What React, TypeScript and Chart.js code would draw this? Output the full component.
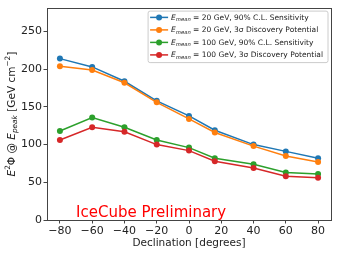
import React, { useEffect, useRef } from "react";
import { Chart, registerables } from "chart.js";

Chart.register(...registerables);

const declinations = [-80, -60, -40, -20, 0, 16, 40, 60, 80];
const sens20 = [214, 203, 184, 158, 138, 119, 100, 91, 82];
const disc20 = [204, 199, 182, 156, 134, 116, 98, 85, 77];
const sens100 = [118, 136, 123, 106, 96, 82, 74, 63, 61];
const disc100 = [106, 123, 117, 100, 92, 78, 69, 58, 56];
const xTicks = [-80, -60, -40, -20, 0, 20, 40, 60, 80];
const yTicks = [0, 50, 100, 150, 200, 250];
const seriesLabels = [
  { mean: "20", rest: " GeV, 90% C.L. Sensitivity" },
  { mean: "20", rest: " GeV, 3σ Discovery Potential" },
  { mean: "100", rest: " GeV, 90% C.L. Sensitivity" },
  { mean: "100", rest: " GeV, 3σ Discovery Potential" },
];
const colors = ["#1f77b4", "#ff7f0e", "#2ca02c", "#d62728"];
const FONT = "'DejaVu Sans', sans-serif";

type Seg = { t: string; it?: boolean; s?: "sub" | "sup" };

function segFont(seg: Seg, size: number) {
  const sz = seg.s ? size * 0.7 : size;
  return `${seg.it ? "italic " : ""}${sz}px ${FONT}`;
}

function measureRich(ctx: CanvasRenderingContext2D, segs: Seg[], size: number) {
  let w = 0;
  for (const s of segs) {
    ctx.font = segFont(s, size);
    w += ctx.measureText(s.t).width;
  }
  return w;
}

function drawRich(ctx: CanvasRenderingContext2D, segs: Seg[], x: number, y: number, size: number) {
  // x = left start, y = middle baseline
  let cx = x;
  ctx.textBaseline = "middle";
  ctx.textAlign = "left";
  for (const s of segs) {
    ctx.font = segFont(s, size);
    let dy = 0;
    if (s.s === "sup") dy = -size * 0.38;
    if (s.s === "sub") dy = size * 0.25;
    ctx.fillText(s.t, cx, y + dy);
    cx += ctx.measureText(s.t).width;
  }
}

const overlayPlugin = {
  id: "overlay",
  afterDraw(chart: any) {
    const ctx: CanvasRenderingContext2D = chart.ctx;
    const ca = chart.chartArea;
    const xs = chart.scales.x;
    const ys = chart.scales.y;
    ctx.save();
    // spines
    ctx.strokeStyle = "#444";
    ctx.lineWidth = 1;
    ctx.strokeRect(Math.round(ca.left) + 0.5, Math.round(ca.top) + 0.5, Math.round(ca.right - ca.left), Math.round(ca.bottom - ca.top));

    // y axis title
    const ySegs: Seg[] = [
      { t: "E", it: true },
      { t: "2", s: "sup" },
      { t: "Φ @ " },
      { t: "E", it: true },
      { t: "peak", it: true, s: "sub" },
      { t: " [GeV cm" },
      { t: "−2", s: "sup" },
      { t: "]" },
    ];
    const ySize = 10.5;
    const yw = measureRich(ctx, ySegs, ySize);
    ctx.save();
    ctx.translate(12.5, (ca.top + ca.bottom) / 2);
    ctx.rotate(-Math.PI / 2);
    ctx.fillStyle = "#222";
    drawRich(ctx, ySegs, -yw / 2, 0, ySize);
    ctx.restore();

    // IceCube Preliminary
    ctx.fillStyle = "#ff0000";
    ctx.font = `15px ${FONT}`;
    ctx.textAlign = "left";
    ctx.textBaseline = "alphabetic";
    ctx.fillText("IceCube Preliminary", xs.getPixelForValue(-70), ys.getPixelForValue(4.5));

    // legend
    const lSize = 7.5;
    const rows = chart.data.datasets.map((ds: any, i: number) => {
      const lab = seriesLabels[i];
      const segs: Seg[] = [
        { t: "E", it: true },
        { t: "mean", it: true, s: "sub" },
        { t: " = " + lab.mean + lab.rest },
      ];
      return { segs, color: ds.borderColor };
    });
    let maxW = 0;
    for (const r of rows) maxW = Math.max(maxW, measureRich(ctx, r.segs, lSize));
    const boxW = 3 + 18 + 3 + maxW + 4;
    const boxRight = ca.right - 3.5;
    const boxLeft = boxRight - boxW;
    const boxTop = ca.top + 2.5;
    const rowH = 12.5;
    const boxH = rows.length * rowH + 1.5;
    ctx.fillStyle = "rgba(255,255,255,0.8)";
    ctx.strokeStyle = "#cccccc";
    ctx.lineWidth = 1;
    ctx.beginPath();
    (ctx as any).roundRect(boxLeft + 0.5, boxTop + 0.5, boxW, boxH, 2);
    ctx.fill();
    ctx.stroke();
    rows.forEach((r: any, i: number) => {
      const cy = boxTop + 6.8 + i * rowH;
      const lx = boxLeft + 2.5;
      ctx.strokeStyle = r.color;
      ctx.lineWidth = 1.5;
      ctx.beginPath();
      ctx.moveTo(lx, cy);
      ctx.lineTo(lx + 18, cy);
      ctx.stroke();
      ctx.fillStyle = r.color;
      ctx.beginPath();
      ctx.arc(lx + 9, cy, 3, 0, Math.PI * 2);
      ctx.fill();
      ctx.fillStyle = "#222";
      drawRich(ctx, r.segs, lx + 21, cy + 0.5, lSize);
    });
    ctx.restore();
  },
};

export default function App() {
  const ref = useRef<HTMLCanvasElement | null>(null);
  useEffect(() => {
    document.body.style.margin = "0";
    const series = [sens20, disc20, sens100, disc100];
    const chart = new Chart(ref.current as HTMLCanvasElement, {
      type: "line",
      data: {
        datasets: series.map((vals, i) => ({
          label: seriesLabels[i].mean + seriesLabels[i].rest,
          data: declinations.map((d, j) => ({ x: d, y: vals[j] })),
          borderColor: colors[i],
          backgroundColor: colors[i],
          borderWidth: 1.5,
          pointRadius: 3,
          pointBorderWidth: 0,
          pointHoverRadius: 3,
          tension: 0,
          order: 4 - i,
        })),
      },
      options: {
        animation: false,
        responsive: false,
        maintainAspectRatio: false,
        layout: { padding: { top: 7.5, right: 8, left: 0, bottom: 0 } },
        plugins: { legend: { display: false }, tooltip: { enabled: false } },
        scales: {
          x: {
            type: "linear",
            min: -88,
            max: 88,
            afterBuildTicks: (axis: any) => {
              axis.ticks = xTicks.map((v) => ({ value: v }));
            },
            afterFit: (axis: any) => {
              axis.height = 34;
            },
            grid: { display: true, drawOnChartArea: false, drawTicks: true, tickLength: 3.5, color: "#444", lineWidth: 1 },
            border: { display: false },
            ticks: {
              color: "#222",
              font: { family: FONT, size: 11 },
              padding: 1,
              maxRotation: 0,
              autoSkip: false,
              callback: (v: any) => String(v).replace("-", "\u2212"),
            },
            title: {
              display: true,
              text: "Declination [degrees]",
              color: "#222",
              font: { family: FONT, size: 10.5 },
              padding: { top: 0, bottom: 4.5 },
            },
          },
          y: {
            type: "linear",
            min: 0,
            max: 281,
            afterBuildTicks: (axis: any) => {
              axis.ticks = yTicks.map((v) => ({ value: v }));
            },
            afterFit: (axis: any) => {
              axis.width = 47;
            },
            grid: { display: true, drawOnChartArea: false, drawTicks: true, tickLength: 3.5, color: "#444", lineWidth: 1 },
            border: { display: false },
            ticks: {
              color: "#222",
              font: { family: FONT, size: 11 },
              padding: 1.5,
              autoSkip: false,
            },
          },
        },
      },
      plugins: [overlayPlugin],
    });
    return () => chart.destroy();
  }, []);
  return (
    <div style={{ position: "absolute", left: 0, top: 0, width: 339, height: 254, background: "#fff" }}>
      <canvas ref={ref} width={339} height={254} style={{ width: 339, height: 254 }} />
    </div>
  );
}
